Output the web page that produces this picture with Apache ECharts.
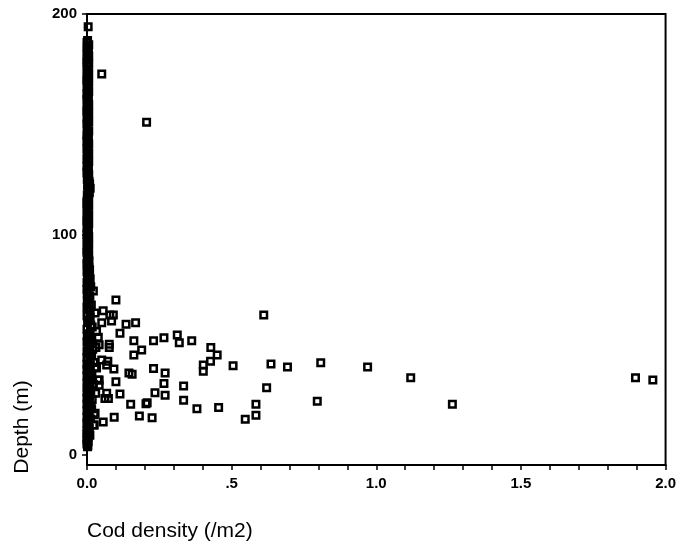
<!DOCTYPE html>
<html>
<head>
<meta charset="utf-8">
<script src="https://cdn.jsdelivr.net/npm/echarts@6/dist/echarts.min.js"></script>
<style>html,body{margin:0;padding:0;background:#fff}#c{width:679px;height:550px}</style>
</head>
<body>
<div id="c"></div>
<script>
// Axis labels
var xTitle = 'Cod density (/m2)';
var yTitle = 'Depth (m)';
var xTickLabels = ['0.0', '.5', '1.0', '1.5', '2.0'];
var yTickValues = [0, 100, 200];

// Scattered observations [density, depth]
var scatterPoints = [
  [0.004, 194.2], [0.051, 172.8], [0.206, 150.9],
  [0.022, 74.4], [0.100, 70.3], [0.056, 65.4], [0.079, 63.5], [0.091, 63.5],
  [0.085, 60.8], [0.051, 60.0], [0.135, 59.3], [0.168, 60.0], [0.114, 55.2],
  [0.039, 53.4], [0.162, 51.8], [0.230, 51.8], [0.266, 53.2], [0.312, 54.4],
  [0.319, 50.9], [0.362, 51.8], [0.077, 50.2], [0.077, 48.8], [0.031, 48.8],
  [0.189, 47.6], [0.162, 45.4], [0.428, 48.8], [0.450, 45.4], [0.427, 42.6],
  [0.402, 40.8], [0.402, 38.0], [0.505, 40.5], [0.611, 63.5], [0.636, 41.3],
  [0.693, 39.9], [0.808, 41.9], [0.970, 39.9], [0.051, 43.1], [0.072, 42.6],
  [0.068, 40.8], [0.093, 39.0], [0.028, 39.8], [0.145, 37.2], [0.156, 36.7],
  [0.230, 39.3], [0.270, 37.2], [0.038, 34.0], [0.042, 31.7], [0.100, 33.2],
  [0.266, 32.5], [0.334, 31.3], [0.621, 30.5], [0.068, 28.0], [0.062, 25.7],
  [0.074, 25.7], [0.114, 27.7], [0.235, 28.3], [0.270, 27.1], [0.334, 24.9],
  [0.151, 23.1], [0.204, 23.3], [0.208, 23.7], [0.380, 21.0], [0.455, 21.6],
  [0.584, 23.0], [0.796, 24.4], [0.025, 18.3], [0.094, 17.2], [0.181, 17.7],
  [0.225, 16.9], [0.547, 16.2], [0.584, 18.1], [0.056, 15.0], [0.025, 13.6],
  [1.119, 35.1], [1.263, 23.0], [1.896, 35.1], [1.956, 34.0]
];

// Dense cluster of near-zero densities, upper part [density, depth]
var nearZeroUpper = [
  [0.002, 188.0], [0.000, 187.1], [0.006, 186.1], [0.001, 185.2], [0.005, 184.3],
  [0.000, 183.1], [0.001, 182.0], [0.006, 181.0], [0.003, 180.2], [0.000, 179.1],
  [0.000, 178.1], [0.006, 177.2], [0.004, 176.4], [0.000, 175.0], [0.001, 173.9],
  [0.006, 173.0], [0.003, 172.1], [0.000, 171.0], [0.000, 170.0], [0.006, 169.1],
  [0.004, 168.2], [0.000, 167.1], [0.002, 166.0], [0.006, 164.9], [0.000, 163.8],
  [0.001, 163.0], [0.005, 162.1], [0.000, 161.2], [0.001, 160.3], [0.006, 159.0],
  [0.003, 157.9], [0.000, 157.0], [0.000, 156.0], [0.006, 155.0], [0.004, 153.8],
  [0.000, 153.0], [0.002, 152.2], [0.006, 151.1], [0.000, 150.1], [0.001, 149.0],
  [0.003, 148.0], [0.006, 147.0], [0.001, 145.8], [0.000, 145.0], [0.005, 144.1],
  [0.001, 143.1], [0.000, 142.2], [0.006, 141.1], [0.003, 140.0], [0.000, 139.0],
  [0.001, 138.1], [0.006, 137.0], [0.004, 136.0], [0.001, 135.1], [0.000, 134.2],
  [0.006, 133.1], [0.002, 132.0], [0.000, 131.0], [0.005, 130.1], [0.001, 129.0],
  [0.000, 128.0], [0.006, 127.1], [0.003, 126.2], [0.001, 125.0], [0.007, 124.0],
  [0.009, 123.0], [0.002, 122.1], [0.011, 121.0], [0.004, 120.0], [0.008, 119.0],
  [0.001, 117.9], [0.006, 117.0], [0.004, 116.0], [0.000, 115.1], [0.000, 114.1],
  [0.006, 113.0], [0.003, 112.0], [0.000, 111.1], [0.001, 110.2], [0.006, 109.0],
  [0.004, 108.0], [0.000, 107.0], [0.000, 106.1], [0.006, 105.0], [0.002, 104.0],
  [0.000, 103.1], [0.005, 102.2], [0.001, 101.0], [0.000, 100.0], [0.006, 99.0],
  [0.003, 98.1], [0.000, 97.0], [0.001, 96.0], [0.006, 95.1], [0.004, 94.2],
  [0.000, 93.0], [0.000, 92.0], [0.006, 91.0], [0.003, 90.1], [0.001, 89.0]
];

// Dense cluster of near-zero densities, lower part [density, depth]
var nearZeroLower = [
  [0.007, 88.0], [0.000, 87.0], [0.001, 86.2], [0.006, 85.0], [0.009, 84.0],
  [0.000, 83.0], [0.003, 82.1], [0.007, 81.0], [0.011, 80.0], [0.002, 79.0],
  [0.000, 78.2], [0.007, 77.2], [0.013, 76.3], [0.000, 75.1], [0.005, 74.0],
  [0.001, 73.0], [0.010, 72.1], [0.004, 71.1], [0.001, 70.2], [0.008, 69.0],
  [0.015, 68.0], [0.000, 67.0], [0.006, 66.1], [0.011, 65.2], [0.028, 64.4],
  [0.000, 63.2], [0.011, 62.3], [0.006, 61.2], [0.002, 60.2], [0.013, 59.0],
  [0.018, 58.1], [0.000, 57.0], [0.033, 56.0], [0.007, 55.0], [0.001, 54.0],
  [0.013, 53.0], [0.007, 52.2], [0.000, 51.4], [0.016, 50.6], [0.042, 50.0],
  [0.003, 49.0], [0.020, 48.0], [0.000, 47.2], [0.009, 46.6], [0.002, 45.8],
  [0.016, 45.0], [0.000, 44.2], [0.002, 43.5], [0.011, 42.8], [0.024, 42.0],
  [0.000, 41.2], [0.011, 40.6], [0.005, 39.8], [0.033, 39.5], [0.000, 38.8],
  [0.005, 38.0], [0.011, 37.2], [0.017, 36.6], [0.000, 35.8], [0.007, 35.0],
  [0.042, 34.0], [0.002, 34.0], [0.009, 33.2], [0.000, 32.6], [0.022, 32.0],
  [0.006, 31.4], [0.001, 30.6], [0.010, 30.0], [0.013, 29.2], [0.000, 28.6],
  [0.030, 28.0], [0.005, 27.4], [0.007, 26.6], [0.000, 25.8], [0.018, 25.2],
  [0.009, 24.6], [0.002, 24.0], [0.000, 23.2], [0.011, 22.4], [0.005, 21.6],
  [0.016, 21.0], [0.000, 20.2], [0.028, 19.0], [0.008, 18.8], [0.004, 18.0],
  [0.000, 17.2], [0.012, 16.4], [0.006, 15.6], [0.001, 15.0], [0.000, 14.2],
  [0.022, 13.6], [0.005, 12.8], [0.008, 12.0], [0.000, 11.2], [0.003, 10.5],
  [0.000, 9.8], [0.010, 9.0], [0.004, 8.3], [0.001, 7.6], [0.000, 6.9],
  [0.004, 6.2], [0.001, 5.6], [0.000, 5.0], [0.003, 4.4], [0.002, 3.8]
];

var chart = echarts.init(document.getElementById('c'), null, {renderer: 'canvas'});

var markerStyle = {color: 'rgba(255,255,255,0)', borderColor: '#000000', borderWidth: 2.5, opacity: 1};
var labelFont = 'Liberation Sans, Arial, sans-serif';

chart.setOption({
  animation: false,
  backgroundColor: '#ffffff',
  grid: {left: 87, right: 13, top: 14, bottom: 85, show: true, borderColor: '#000', borderWidth: 2, backgroundColor: 'transparent'},
  xAxis: {
    type: 'value', min: 0, max: 2, interval: 0.1,
    axisLine: {show: true, onZero: false, lineStyle: {color: '#000', width: 2}},
    axisTick: {show: true, inside: false, length: 5, lineStyle: {color: '#000', width: 1.5}},
    splitLine: {show: false},
    axisLabel: {
      color: '#000', fontSize: 15, fontWeight: 'bold', fontFamily: labelFont, margin: 11,
      formatter: function (v) {
        var k = Math.round(v * 10);
        if (k % 5 !== 0) return '';
        return xTickLabels[k / 5];
      }
    }
  },
  yAxis: {
    type: 'value', min: -4.5, max: 200,
    axisLine: {show: true, onZero: false, lineStyle: {color: '#000', width: 2}},
    axisTick: {show: true, inside: false, length: 5, customValues: yTickValues, lineStyle: {color: '#000', width: 1.5}},
    splitLine: {show: false},
    axisLabel: {
      color: '#000', fontSize: 15, fontWeight: 'bold', fontFamily: labelFont, margin: 10,
      customValues: yTickValues,
      formatter: function (v) { return String(Math.round(v)); }
    }
  },
  graphic: [
    {type: 'text', left: 87, top: 521, style: {text: xTitle, fill: '#000', font: '21px "Liberation Sans", Arial, sans-serif'}},
    {type: 'text', x: 22, y: 427, rotation: Math.PI / 2, style: {text: yTitle, fill: '#000', font: '21px "Liberation Sans", Arial, sans-serif', textAlign: 'center', textVerticalAlign: 'middle'}}
  ],
  series: [
    {type: 'scatter', data: nearZeroUpper, symbol: 'rect', symbolSize: 6.5, itemStyle: markerStyle, clip: false},
    {type: 'scatter', data: nearZeroLower, symbol: 'rect', symbolSize: 6.5, itemStyle: markerStyle, clip: false},
    {type: 'scatter', data: scatterPoints, symbol: 'rect', symbolSize: 6.5, itemStyle: markerStyle, clip: false}
  ]
});
</script>
</body>
</html>
